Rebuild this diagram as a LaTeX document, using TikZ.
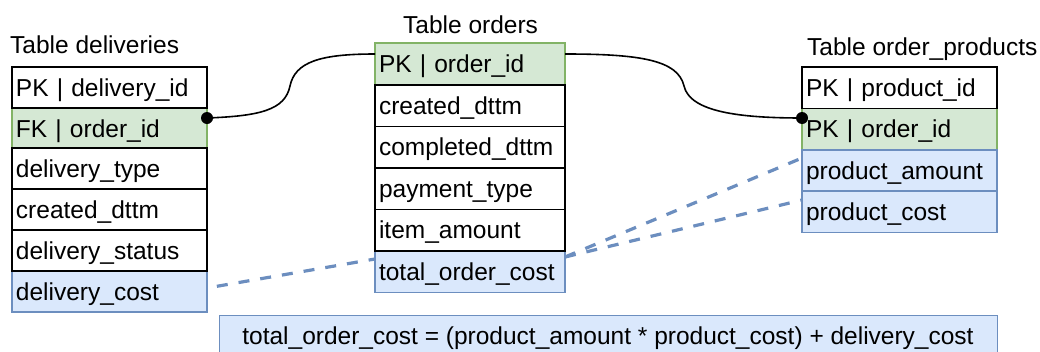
\documentclass[tikz,border=0pt]{standalone}
\usepackage{fontspec}
\setmainfont{Liberation Sans}
\usetikzlibrary{calc}
\definecolor{gfill}{HTML}{D5E8D4}
\definecolor{gline}{HTML}{82B366}
\definecolor{bfill}{HTML}{DAE8FC}
\definecolor{bline}{HTML}{6C8EBF}
\begin{document}
\begin{tikzpicture}[x=1pt,y=-1pt,
  every node/.style={font=\fontsize{24.5}{28}\selectfont},
  rowbase/.style={anchor=north west, inner xsep=4pt, inner ysep=0pt, outer sep=0pt,
    text height=17pt, text depth=0pt, align=left},
  whiterow/.style={rowbase, draw=black, line width=1.8pt, fill=white},
  greenrow/.style={rowbase, draw=gline, line width=1.4pt, fill=gfill},
  bluerow/.style={rowbase, draw=bline, line width=1.4pt, fill=bfill},
  dwidth/.style={minimum width=195pt, text width=187pt, minimum height=41pt},
  owidth/.style={minimum width=190pt, text width=182pt, minimum height=41.5pt},
  pwidth/.style={minimum width=195pt, text width=187pt, minimum height=41.5pt},
  tabletitle/.style={anchor=base west, inner sep=0pt},
  conn/.style={draw=black, line width=1.6pt},
  dotmark/.style={fill=black},
  dashline/.style={draw=bline, line width=3.2pt, dash pattern=on 11pt off 11pt}
]
\useasboundingbox (0,0) rectangle (1040,351);

% titles
\node[tabletitle] (tdel) at (10,53) {Table deliveries};
\node[tabletitle] (tord) at (403,33) {Table orders};
\node[tabletitle] (tprod) at (807,55) {Table order\_products};

% deliveries (coloured rows first)
\node[greenrow,dwidth] (dfk) at (12,108) {FK | order\_id};
\node[bluerow,dwidth] (dcost) at (12,271) {delivery\_cost};
\node[whiterow,dwidth] (dpk) at (12,67) {PK | delivery\_id};
\node[whiterow,dwidth] (dtype) at (12,148) {delivery\_type};
\node[whiterow,dwidth] (dcreated) at (12,189) {created\_dttm};
\node[whiterow,dwidth] (dstatus) at (12,230) {delivery\_status};

% orders
\node[greenrow,owidth] (opk) at (375,43) {PK | order\_id};
\node[bluerow,owidth] (ototal) at (375,251) {total\_order\_cost};
\node[whiterow,owidth] (ocreated) at (375,85) {created\_dttm};
\node[whiterow,owidth] (ocompleted) at (375,126.5) {completed\_dttm};
\node[whiterow,owidth] (opay) at (375,168) {payment\_type};
\node[whiterow,owidth] (oitem) at (375,209.5) {item\_amount};

% order_products
\node[greenrow,pwidth] (pok) at (802,108) {PK | order\_id};
\node[bluerow,pwidth] (pam) at (802,150) {product\_amount};
\node[bluerow,pwidth] (pcost) at (802,191) {product\_cost};
\node[whiterow,pwidth] (ppk) at (802,67) {PK | product\_id};

% formula
\node[draw=bline, line width=1.4pt, fill=bfill, anchor=north west, minimum width=778pt,
  minimum height=50pt, inner sep=0pt] (formula) at (219,315) {};
\node[anchor=base, inner sep=0pt] (ftext) at (608,344)
  {total\_order\_cost = (product\_amount * product\_cost) + delivery\_cost};

% connector end points
\coordinate (dfkE) at ($(dfk.north east)+(0,10)$);
\coordinate (opkW) at ($(opk.north west)+(0,11)$);
\coordinate (opkE) at ($(opk.north east)+(0,11)$);
\coordinate (pokW) at ($(pok.north west)+(0,10)$);
\coordinate (m1) at (290,86);
\coordinate (m2) at (684,86);

\draw[conn] (dfkE) .. controls +(53,-2) and +(-5,24) .. (m1)
  .. controls +(5,-24) and +(-55,0) .. (opkW);
\draw[conn] (opkE) .. controls +(75,0) and +(-6,-26) .. (m2)
  .. controls +(6,26) and +(-62,0) .. (pokW);
\fill[dotmark] (dfkE) circle (6pt);
\fill[dotmark] (pokW) circle (6pt);

% dashed relations
\draw[dashline, shorten <=10pt] ($(dcost.north east)+(0,17)$) -- ($(ototal.north west)+(0,8)$);
\draw[dashline] ($(ototal.north east)+(0,6)$) -- ($(pam.north west)+(0,8)$);
\draw[dashline] ($(ototal.north east)+(0,6)$) -- ($(pcost.north west)+(0,9)$);
\end{tikzpicture}
\end{document}
